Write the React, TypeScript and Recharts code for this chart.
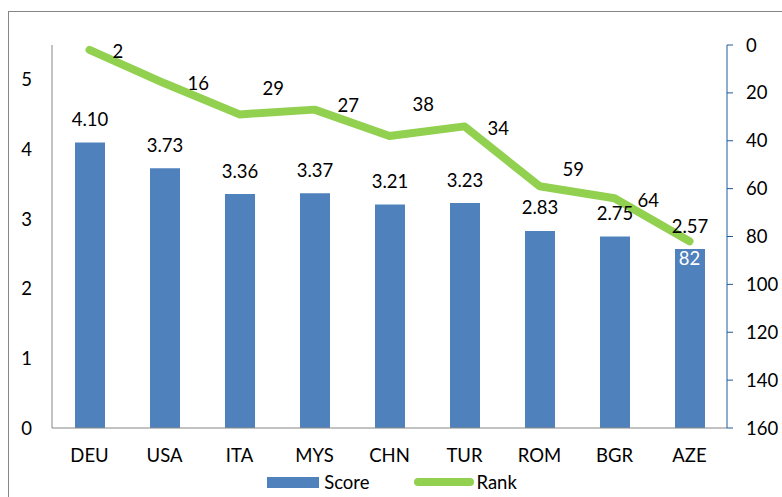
import { ComposedChart, Bar, Line, XAxis, YAxis, Legend, LabelList } from 'recharts'

const countries = ['DEU', 'USA', 'ITA', 'MYS', 'CHN', 'TUR', 'ROM', 'BGR', 'AZE']
const scores = [4.1, 3.73, 3.36, 3.37, 3.21, 3.23, 2.83, 2.75, 2.57]
const ranks = [2, 16, 29, 27, 38, 34, 59, 64, 82]

const scoreTicks = [0, 1, 2, 3, 4, 5]
const rankTicks = [0, 20, 40, 60, 80, 100, 120, 140, 160]

const data = countries.map((c, i) => ({ country: c, score: scores[i], rank: ranks[i] }))

const FONT = 'Lato, "Open Sans", sans-serif'
const FS = 18.5
const BLUE = '#4F81BD'
const GREEN = '#92D050'
const GRAY = '#868686'
const AXIS_BLUE = '#1F5A9E'

// rank labels sit right of the point, nudged up/down like the original
const RANK_LABEL_DY = [1, 0, -26, -5, -32, 2, -17, 2]

function ScoreLabel(props: any) {
  const { x, y, width, value } = props
  return (
    <text x={x + width / 2} y={y - 23.5} textAnchor="middle" dominantBaseline="central"
      fontSize={FS} fontFamily={FONT} fill="#000">
      {Number(value).toFixed(2)}
    </text>
  )
}

function RankLabel(props: any) {
  const { x, y, value, index } = props
  if (index === ranks.length - 1) {
    return (
      <text x={x} y={y + 17} textAnchor="middle" dominantBaseline="central"
        fontSize={FS} fontFamily={FONT} fill="#fff">
        {value}
      </text>
    )
  }
  return (
    <text x={x + 23} y={y + (RANK_LABEL_DY[index] ?? 0)} textAnchor="start" dominantBaseline="central"
      fontSize={FS} fontFamily={FONT} fill="#000">
      {value}
    </text>
  )
}

function LegendContent() {
  return (
    <div style={{
      width: 782, height: 30, display: 'flex', justifyContent: 'center', alignItems: 'center',
      fontFamily: FONT, fontSize: FS, color: '#000', paddingLeft: 2, boxSizing: 'border-box',
    }}>
      <div style={{ display: 'flex', alignItems: 'center', marginRight: 44 }}>
        <span style={{ display: 'inline-block', width: 52, height: 11, background: BLUE, marginRight: 5 }} />
        <span>Score</span>
      </div>
      <div style={{ display: 'flex', alignItems: 'center' }}>
        <svg width={62} height={10} style={{ marginRight: 1 }}>
          <line x1={5} y1={5} x2={57} y2={5} stroke={GREEN} strokeWidth={8} strokeLinecap="round" />
        </svg>
        <span>Rank</span>
      </div>
    </div>
  )
}

export default function App() {
  return (
    <div style={{ position: 'fixed', left: 0, top: 0, width: 782, height: 497, overflow: 'hidden', background: '#fff' }}>
      <div style={{
        position: 'absolute', left: 8, top: 11, width: 900, height: 600,
        border: `1px solid ${GRAY}`, boxSizing: 'border-box',
      }} />
      <div style={{ position: 'absolute', left: 0, top: 0 }}>
        <ComposedChart width={782} height={497} data={data}
          margin={{ top: 45, right: 0, bottom: 0, left: 8 }}
          style={{ fontFamily: FONT }}>
          <XAxis dataKey="country" height={39} tickLine={false} tickSize={0} tickMargin={21}
            axisLine={{ stroke: GRAY }} tick={{ fontSize: FS, fill: '#000', fontFamily: FONT }} interval={0} />
          <YAxis yAxisId="left" width={44} domain={[0, 5.5]} ticks={scoreTicks} tickLine={false}
            tickSize={0} tickMargin={20} axisLine={{ stroke: GRAY }}
            tick={{ fontSize: FS, fill: '#000', fontFamily: FONT }} />
          <YAxis yAxisId="right" orientation="right" width={55} domain={[0, 160]} ticks={rankTicks}
            reversed tickSize={6} tickMargin={13} axisLine={{ stroke: AXIS_BLUE }}
            tickLine={{ stroke: AXIS_BLUE }} tick={{ fontSize: FS, fill: '#000', fontFamily: FONT }} />
          <Legend verticalAlign="bottom" height={30} content={<LegendContent />}
            wrapperStyle={{ left: 0, width: 782 }} />
          <Bar yAxisId="left" dataKey="score" name="Score" fill={BLUE} barSize={30} isAnimationActive={false}>
            <LabelList dataKey="score" content={<ScoreLabel />} />
          </Bar>
          <Line yAxisId="right" dataKey="rank" name="Rank" stroke={GREEN} strokeWidth={8} dot={false}
            activeDot={false} strokeLinecap="round" strokeLinejoin="round" isAnimationActive={false}>
            <LabelList dataKey="rank" content={<RankLabel />} />
          </Line>
        </ComposedChart>
      </div>
    </div>
  )
}
